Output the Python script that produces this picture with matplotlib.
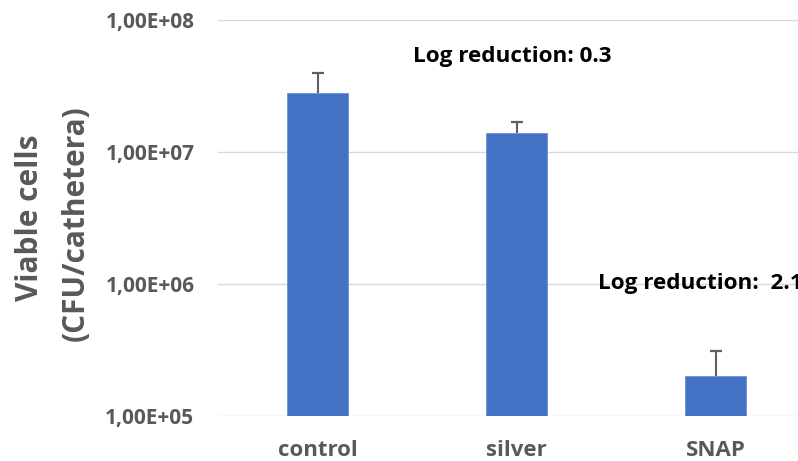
import matplotlib
matplotlib.use("Agg")
import matplotlib.pyplot as plt
import numpy as np

categories = ["control", "silver", "SNAP"]
viable_cells = [2.78e7, 1.40e7, 2.0e5]
upper_error = [1.17e7, 0.30e7, 1.13e5]
yticks = [1e5, 1e6, 1e7, 1e8]
ytick_labels = ["1,00E+05", "1,00E+06", "1,00E+07", "1,00E+08"]
reduction_texts = ["Log reduction: 0.3", "Log reduction:  2.1"]

plt.rcParams["font.family"] = ["Open Sans", "DejaVu Sans"]

fig = plt.figure(figsize=(7.98, 4.61), dpi=100)
ax = fig.add_axes([218 / 798, 1 - 416 / 461, (815 - 218) / 798, (416 - 20) / 461])

x = np.arange(len(categories))
vals = np.array(viable_cells)
errs = np.array(upper_error)
ax.bar(x, vals, width=0.31, color="#4472C4", zorder=3,
       edgecolor="#6d91d3", linewidth=0.6)
# upper-only error bars with a cap at the top end
ax.vlines(x, vals, vals + errs, color="#5f5f5f", linewidth=1.5, zorder=4)
ax.plot(x, vals + errs, linestyle="none", marker="_", markersize=9,
        markeredgewidth=1.6, color="#5f5f5f", zorder=4)

ax.set_yscale("log")
ax.set_ylim(1e5, 1e8)
ax.set_xlim(-0.5, 2.5)
ax.set_yticks(yticks)
ax.set_yticklabels(ytick_labels)
ax.yaxis.set_minor_locator(matplotlib.ticker.NullLocator())
ax.set_xticks(x)
ax.set_xticklabels(categories)
ax.tick_params(axis="both", length=0, labelcolor="#595959")
ax.tick_params(axis="y", pad=17, labelsize=15)
ax.tick_params(axis="x", pad=17, labelsize=16)
for lbl in ax.get_xticklabels() + ax.get_yticklabels():
    lbl.set_fontweight("bold")

ax.grid(axis="y", color="#d9d9d9", linewidth=1.0, zorder=0)
for s in ax.spines.values():
    s.set_visible(False)

fig.text(30 / 798, 1 - 218 / 461, "Viable cells", rotation=90, ha="center", va="center",
         fontsize=21.5, fontweight="bold", color="#595959")
fig.text(76 / 798, 1 - 223 / 461, "(CFU/cathetera)", rotation=90, ha="center", va="center",
         fontsize=21.5, fontweight="bold", color="#595959")

# log-reduction notes above the silver and SNAP bars
ax.text(1 - 0.52, 5.3e7, reduction_texts[0], ha="left", va="center", fontsize=16.2,
        fontweight="bold", color="black", clip_on=False)
ax.text(2 - 0.59, 1.0e6, reduction_texts[1], ha="left", va="center", fontsize=16.2,
        fontweight="bold", color="black", clip_on=False)

fig.savefig("out.png", dpi=100)
